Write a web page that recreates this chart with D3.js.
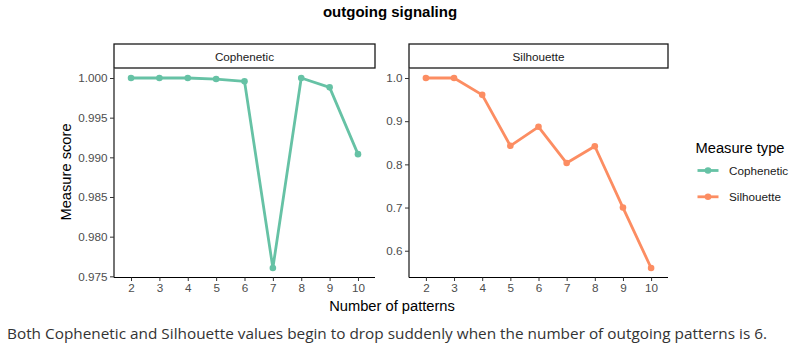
<!DOCTYPE html>
<html>
<head>
<meta charset="utf-8">
<script src="https://cdn.jsdelivr.net/npm/d3@7"></script>
<style>
  body { margin: 0; background: #fff; }
  svg text { font-family: "Liberation Sans", Arial, sans-serif; }
  svg text.caption { font-family: "Open Sans", "Noto Sans", sans-serif; }
</style>
</head>
<body>
<svg id="chart"></svg>
<script>
let width = 800;
let height = 353;

// data
let patterns = ["2", "3", "4", "5", "6", "7", "8", "9", "10"];
let cophenetic = [1.0, 1.0, 1.0, 0.99987, 0.99958, 0.97605, 1.0, 0.99882, 0.9904];
let silhouette = [1.0, 1.0, 0.961, 0.843, 0.887, 0.803, 0.842, 0.70, 0.56];
let copheneticTicks = [0.975, 0.980, 0.985, 0.990, 0.995, 1.000];
let silhouetteTicks = [0.6, 0.7, 0.8, 0.9, 1.0];
let measures = ["Cophenetic", "Silhouette"];
let colors = ["#66c2a5", "#fc8d62"];

let svg = d3.select("#chart")
  .attr("width", width)
  .attr("height", height);

let panelTop = 68.5, panelBottom = 277.5;
let smallText = 11.7, bigText = 14.7;

svg.append("text")
  .text("outgoing signaling")
  .attr("x", 390)
  .attr("y", 17)
  .attr("text-anchor", "middle")
  .attr("font-size", 15)
  .attr("font-weight", "bold")
  .attr("fill", "#000");

drawPanel(114, 375, measures[0], cophenetic, copheneticTicks, d3.format(".3f"), colors[0]);
drawPanel(409, 668, measures[1], silhouette, silhouetteTicks, d3.format(".1f"), colors[1]);

function drawPanel(x0, x1, label, values, ticks, fmt, color) {
  let g = svg.append("g");
  let lo = d3.min(values), hi = d3.max(values);
  let pad = (hi - lo) * 0.05;

  let x = d3.scalePoint()
    .domain(patterns)
    .range([x0, x1])
    .padding(0.6);

  let y = d3.scaleLinear()
    .domain([lo - pad, hi + pad])
    .range([panelBottom, panelTop]);

  // strip
  g.append("rect")
    .attr("x", x0)
    .attr("y", 44)
    .attr("width", x1 - x0)
    .attr("height", 24)
    .attr("fill", "#fff")
    .attr("stroke", "#1a1a1a")
    .attr("stroke-width", 1.3);
  g.append("text")
    .text(label)
    .attr("x", (x0 + x1) / 2)
    .attr("y", 60.5)
    .attr("text-anchor", "middle")
    .attr("font-size", smallText)
    .attr("fill", "#1a1a1a");

  let yAxis = g.append("g")
    .attr("transform", `translate(${x0},0)`)
    .call(d3.axisLeft(y).tickValues(ticks).tickFormat(fmt).tickSize(4).tickPadding(2.5));
  let xAxis = g.append("g")
    .attr("transform", `translate(0,${panelBottom})`)
    .call(d3.axisBottom(x).tickSize(3.5).tickPadding(3));

  [xAxis, yAxis].forEach(a => {
    a.select(".domain").attr("stroke", "#000").attr("stroke-width", 1.1);
    a.selectAll(".tick line").attr("stroke", "#333");
    a.selectAll(".tick text")
      .attr("fill", "#4d4d4d")
      .attr("font-size", smallText);
  });
  // plain axis lines like ggplot's classic theme
  xAxis.select(".domain").attr("d", `M${x0},0H${x1}`);
  yAxis.select(".domain").attr("d", `M0,${panelTop}V${panelBottom}`);

  g.append("path")
    .datum(values)
    .attr("fill", "none")
    .attr("stroke", color)
    .attr("stroke-width", 2.8)
    .attr("stroke-linejoin", "round")
    .attr("d", d3.line()
      .x((d, i) => x(patterns[i]))
      .y(d => y(d)));

  g.selectAll("circle")
    .data(values)
    .enter()
      .append("circle")
      .attr("cx", (d, i) => x(patterns[i]))
      .attr("cy", d => y(d))
      .attr("r", 3.3)
      .attr("fill", color);
}

// axis titles
svg.append("text")
  .text("Number of patterns")
  .attr("x", 392)
  .attr("y", 311)
  .attr("text-anchor", "middle")
  .attr("font-size", bigText)
  .attr("fill", "#000");

svg.append("text")
  .text("Measure score")
  .attr("transform", "translate(71,172) rotate(-90)")
  .attr("text-anchor", "middle")
  .attr("font-size", bigText)
  .attr("fill", "#000");

// legend
let legend = svg.append("g");
legend.append("text")
  .text("Measure type")
  .attr("x", 695.5)
  .attr("y", 153)
  .attr("font-size", bigText)
  .attr("fill", "#000");

measures.forEach((m, i) => {
  let ly = 170.5 + i * 26.3;
  legend.append("line")
    .attr("x1", 697.5).attr("x2", 718.5)
    .attr("y1", ly).attr("y2", ly)
    .attr("stroke", colors[i])
    .attr("stroke-width", 2.8);
  legend.append("circle")
    .attr("cx", 708).attr("cy", ly)
    .attr("r", 3.3)
    .attr("fill", colors[i]);
  legend.append("text")
    .text(m)
    .attr("x", 729)
    .attr("y", ly + 4.2)
    .attr("font-size", smallText)
    .attr("fill", "#1a1a1a");
});

// caption below the figure
svg.append("text")
  .attr("class", "caption")
  .text("Both Cophenetic and Silhouette values begin to drop suddenly when the number of outgoing patterns is 6.")
  .attr("x", 7)
  .attr("y", 339)
  .attr("font-size", 14)
  .attr("fill", "#333")
  .attr("textLength", 760)
  .attr("lengthAdjust", "spacingAndGlyphs");
</script>
</body>
</html>
